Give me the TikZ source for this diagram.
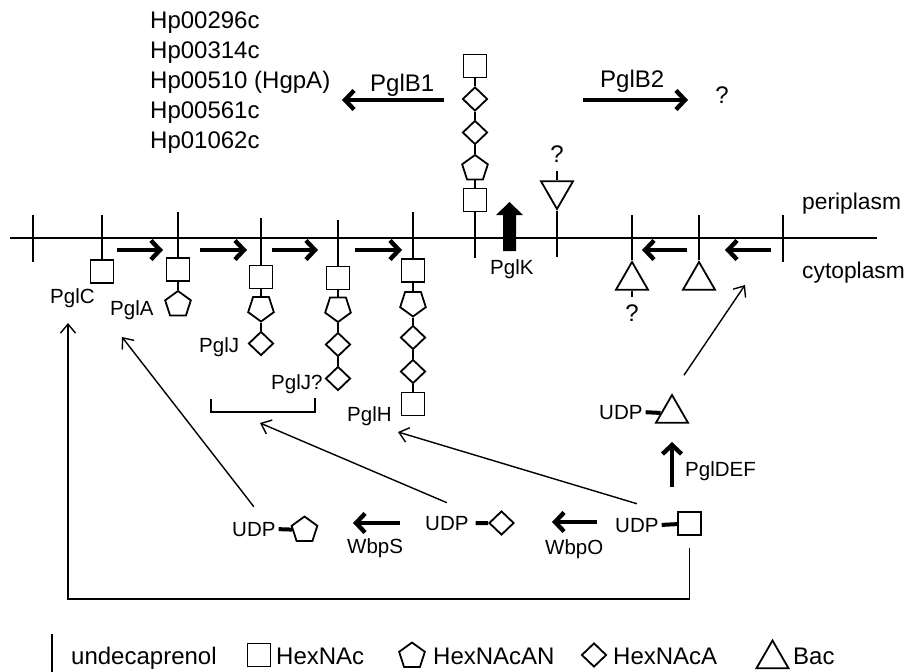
\documentclass[tikz,border=0pt]{standalone}
\usepackage{fontspec}
\setmainfont{Liberation Sans}
\usetikzlibrary{arrows.meta,shapes.geometric}
\tikzset{
  lbl/.style={inner sep=0pt, anchor=base west, font=\fontsize{20.5}{24}\selectfont},
  biglbl/.style={lbl, font=\fontsize{24}{30}\selectfont},
  sidelbl/.style={lbl, font=\fontsize{22.8}{27}\selectfont},
  qmark/.style={biglbl, anchor=base},
  sugar/.style={draw, line width=1.8pt, fill=white, inner sep=0pt},
  hexnac/.style={sugar, rectangle, minimum size=23pt},
  hexnacan/.style={sugar, regular polygon, regular polygon sides=5, minimum size=27pt},
  hexnacanflip/.style={hexnacan, shape border rotate=180},
  hexnaca/.style={sugar, diamond, minimum width=25pt, minimum height=24pt},
  bac/.style={sugar, regular polygon, regular polygon sides=3, minimum size=37pt},
  bacflip/.style={bac, shape border rotate=180},
  lipid/.style={line width=1.8pt},
  bond/.style={line width=4pt, shorten <=3pt},
  rxn/.style={line width=4.4pt, -{Straight Barb[length=9pt,width=19pt]}},
  feed/.style={line width=1.4pt, -{Straight Barb[length=9pt,width=15pt]}},
}

\begin{document}
\begin{tikzpicture}[x=1pt,y=-1pt]
  \useasboundingbox (0,0) rectangle (906,672);

  % membrane
  \coordinate (memL) at (10,238);
  \coordinate (memR) at (877,238);
  \draw[lipid] (memL) -- (memR);
  \draw[lipid] (33,215) -- (33,262);
  \draw[lipid] (783,215) -- (783,262);
  \node[sidelbl] (peri) at (802,209) {periplasm};
  \node[sidelbl] (cyto) at (802,278) {cytoplasm};

  % lipid-linked intermediates, cytoplasmic side
  \coordinate (lipC) at (102,215);
  \node[hexnac] (c1) at (102,271.5) {};
  \coordinate (lipA) at (178,212);
  \node[hexnac] (a1) at (178,269.5) {};
  \node[hexnacan] (a2) at (178,304.5) {};
  \coordinate (lipJ) at (261,218);
  \node[hexnac] (j1) at (261,277) {};
  \node[hexnacanflip] (j2) at (261,308) {};
  \node[hexnaca] (j3) at (261,343.5) {};
  \coordinate (lipQ) at (338,220);
  \node[hexnac] (q1) at (338,278) {};
  \node[hexnacanflip] (q2) at (338,308.5) {};
  \node[hexnaca] (q3) at (338,344.5) {};
  \node[hexnaca] (q4) at (338,378.5) {};
  \coordinate (lipH) at (413,212);
  \node[hexnac] (h1) at (413,270.5) {};
  \node[hexnacanflip] (h2) at (413,303) {};
  \node[hexnaca] (h3) at (413,337.5) {};
  \node[hexnaca] (h4) at (413,371.5) {};
  \node[hexnac] (h5) at (413,404) {};
  \foreach \u/\v in {lipC/c1,lipA/a1,a1/a2,lipJ/j1,j1/j2,j2/j3,lipQ/q1,q1/q2,q2/q3,q3/q4,
                     lipH/h1,h1/h2,h2/h3,h3/h4,h4/h5}
    \draw[lipid] (\u) -- (\v);

  \node[lbl] (pglC) at (50,303) {PglC};
  \node[lbl] (pglA) at (110,315) {PglA};
  \node[lbl] (pglJ) at (199,352) {PglJ};
  \node[lbl] (pglJq) at (271,389) {PglJ?};
  \node[lbl] (pglH) at (347,421.5) {PglH};

  \foreach \n/\xa/\xb in {1/117/163,2/200/247,3/272/318,4/355/402}{
    \coordinate (step\n a) at (\xa,250);
    \coordinate (step\n b) at (\xb,250);
    \draw[rxn] (step\n a) -- (step\n b);
  }
  \draw[lipid] (211,399) -- (211,412) -- (315,412) -- (315,398);

  % flipped glycan, periplasmic side
  \coordinate (lipG) at (475,258);
  \node[hexnac] (g1) at (475,200) {};
  \node[hexnacan] (g2) at (475,168.5) {};
  \node[hexnaca] (g3) at (475,132.5) {};
  \node[hexnaca] (g4) at (475,99) {};
  \node[hexnac] (g5) at (475,66) {};
  \foreach \u/\v in {lipG/g1,g1/g2,g2/g3,g3/g4,g4/g5}
    \draw[lipid] (\u) -- (\v);

  \fill (503,251) -- (503,215) -- (496,215) -- (509.5,202) -- (523,215) -- (516,215) -- (516,251) -- cycle;
  \node[lbl] (pglK) at (490,274) {PglK};

  \coordinate (b1From) at (444,100);
  \coordinate (b1To) at (342,100);
  \draw[rxn] (b1From) -- (b1To);
  \node[biglbl] (pglB1) at (370,91) {PglB1};
  \coordinate (b2From) at (583,100);
  \coordinate (b2To) at (688,100);
  \draw[rxn] (b2From) -- (b2To);
  \node[biglbl] (pglB2) at (600,87) {PglB2};
  \node[qmark] (qB2) at (722,103) {?};
  \foreach \t [count=\i] in {Hp00296c,Hp00314c,Hp00510 (HgpA),Hp00561c,Hp01062c}
    \node[biglbl] (hp\i) at (150,{28.3+30*(\i-1)}) {\t};

  % Bac branch
  \coordinate (lipT1) at (557,257);
  \node[bacflip] (t1) at (557,190.5) {};
  \coordinate (t1Tail) at (557,171);
  \draw[lipid] (lipT1) -- (t1);
  \draw[lipid] (t1Tail) -- (t1);
  \node[qmark] (qT1) at (557,162) {?};
  \coordinate (lipT2) at (632,215);
  \node[bac] (t2) at (632,280.5) {};
  \coordinate (t2Tail) at (632,297);
  \draw[lipid] (lipT2) -- (t2);
  \draw[lipid] (t2) -- (t2Tail);
  \node[qmark] (qT2) at (632,321) {?};
  \coordinate (lipT3) at (699,215);
  \node[bac] (t3) at (699,280.5) {};
  \draw[lipid] (lipT3) -- (t3);
  \coordinate (bacStep1a) at (687,250);
  \coordinate (bacStep1b) at (642,250);
  \draw[rxn] (bacStep1a) -- (bacStep1b);
  \coordinate (bacStep2a) at (771,250);
  \coordinate (bacStep2b) at (725,250);
  \draw[rxn] (bacStep2a) -- (bacStep2b);

  % nucleotide sugars
  \node[lbl] (udpS) at (615,532) {UDP};
  \node[hexnac] (sqU) at (689.5,523.5) {};
  \draw[bond] (udpS.east) -- (sqU);
  \node[lbl] (udpD) at (425,530) {UDP};
  \node[hexnaca] (diaU) at (501.5,523) {};
  \draw[bond, shorten <=7pt] (udpD.east) -- (diaU);
  \node[lbl] (udpP) at (232,536) {UDP};
  \node[hexnacan] (pentU) at (304.5,530) {};
  \draw[bond] (udpP.east) -- (pentU);
  \node[lbl] (udpB) at (599,419) {UDP};
  \node[bac] (triB) at (672,413.5) {};
  \draw[bond] (udpB.east) -- (triB);

  \coordinate (wbpOa) at (597,522);
  \coordinate (wbpOb) at (552,522);
  \draw[rxn] (wbpOa) -- (wbpOb);
  \node[lbl] (wbpO) at (545,554) {WbpO};
  \coordinate (wbpSa) at (400,523);
  \coordinate (wbpSb) at (353,523);
  \draw[rxn] (wbpSa) -- (wbpSb);
  \node[lbl] (wbpS) at (347,553) {WbpS};
  \coordinate (defA) at (672,487);
  \coordinate (defB) at (672,442);
  \draw[rxn] (defA) -- (defB);
  \node[lbl] (pglDEF) at (685,476.5) {PglDEF};

  \coordinate (toPglA) at (122,337);
  \coordinate (toBracket) at (260,423);
  \coordinate (toPglH) at (398,432);
  \coordinate (toBac) at (745,285);
  \coordinate (toPglC) at (68,323);
  \draw[feed] ([yshift=15pt]udpP.north) -- (toPglA);
  \draw[feed] ([yshift=13pt]udpD.north) -- (toBracket);
  \draw[feed] ([yshift=14pt]udpS.north) -- (toPglH);
  \draw[feed] ([xshift=12pt,yshift=18pt]triB.corner 1) -- (toBac);
  \draw[feed] ([yshift=-12pt]sqU.south) -- ++(0,51) -| (toPglC);

  % key
  \draw[lipid] (52,634) -- (52,672);
  \node[biglbl] (keyLipid) at (71,664) {undecaprenol};
  \node[hexnac] (keySq) at (259,655) {};
  \node[biglbl] (keySqT) at (276,664) {HexNAc};
  \node[hexnacan] (keyPent) at (412,656) {};
  \node[biglbl] (keyPentT) at (433,664) {HexNAcAN};
  \node[hexnaca] (keyDia) at (594,655) {};
  \node[biglbl] (keyDiaT) at (613,664) {HexNAcA};
  \node[bac] (keyTri) at (772.5,659) {};
  \node[biglbl] (keyTriT) at (793,664) {Bac};
\end{tikzpicture}
\end{document}
